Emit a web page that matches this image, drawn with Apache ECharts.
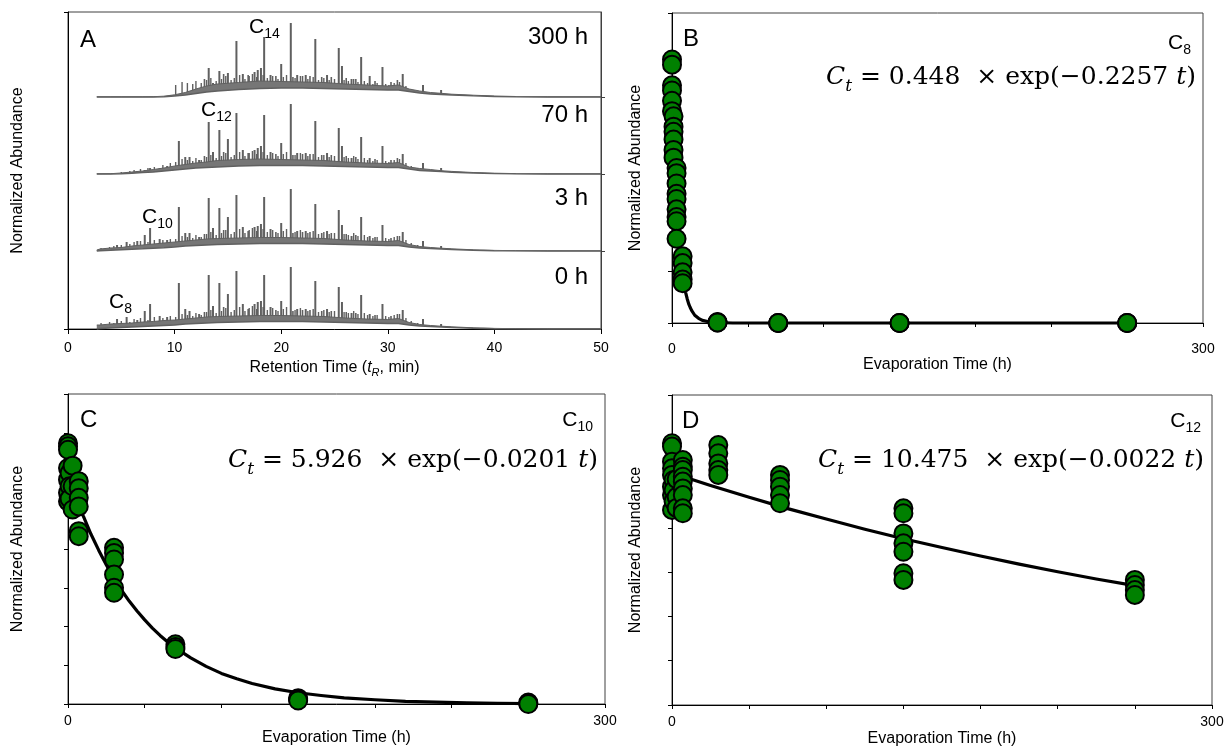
<!DOCTYPE html>
<html>
<head>
<meta charset="utf-8">
<script src="https://cdn.jsdelivr.net/npm/echarts@6/dist/echarts.min.js"></script>
<style>
  html, body { margin: 0; padding: 0; background: #fff; }
  #chart { width: 1225px; height: 746px; }
</style>
</head>
<body>
<div id="chart"></div>
<script>
// ---- panel A: chromatograms (retention time in min, heights in px above each trace baseline)
const traceOffsets = [0, 78, 155, 232]; // 0 h, 3 h, 70 h, 300 h
const humpTimes = [2.7, 3, 4, 5, 6, 7, 8, 9, 10, 11, 12, 13, 14, 16, 18, 20, 22, 24, 26, 28, 30, 31, 32, 33, 34, 35, 36, 38, 40, 42, 45, 50];
const floor0h = [0, 0.5, 1, 1.5, 2, 2.5, 3, 3.5, 4, 5, 5.5, 6, 6.5, 7, 7.5, 7.5, 7.5, 7, 6.5, 6, 5.5, 5.5, 4, 3, 2.5, 2, 1.5, 0.8, 0.3, 0.1, 0, 0];
const top0h = [4, 4, 5, 5.5, 6, 7, 7.5, 8.5, 9, 10, 11, 12, 12.5, 13, 13.5, 13.5, 13, 12.5, 11, 10, 9.5, 10.5, 6.5, 4.5, 3.5, 2.8, 2.2, 1.2, 0.6, 0.3, 0.2, 0.2];
const floor3h = [0, 0.3, 0.7, 1.2, 1.7, 2.2, 2.8, 3.3, 4, 5, 5.5, 6, 6.5, 7, 7.5, 7.5, 7.5, 7, 6.5, 6, 5.5, 5.5, 4, 3, 2.5, 2, 1.5, 0.8, 0.3, 0.1, 0, 0];
const top3h = [1, 2, 3, 3.5, 5, 6, 7, 8, 9, 10, 11, 12, 12.5, 13, 13.5, 13.5, 13, 12.5, 11, 10, 9.5, 10.5, 6.5, 4.5, 3.5, 2.8, 2.2, 1.2, 0.6, 0.3, 0.2, 0.2];
const floor70h = [0, 0, 0, 0.3, 0.8, 1.5, 2, 3, 4, 5, 6, 6.5, 7, 8, 8.5, 8.5, 8.5, 8, 7.5, 7, 6.5, 6.5, 5, 3.5, 3, 2.5, 1.8, 1, 0.4, 0.2, 0, 0];
const top70h = [0.2, 0.2, 0.3, 1, 2, 3, 4.5, 6, 8, 9.5, 11, 12, 13.5, 14.5, 15, 14.5, 14, 13.5, 12, 11, 10.5, 11.5, 7, 5.5, 4.5, 3.3, 2.6, 1.5, 0.8, 0.4, 0.2, 0.2];
const floor300h = [0, 0, 0, 0, 0, 0, 0, 0.3, 1, 2, 3.5, 5, 6, 7.5, 8.5, 9, 9, 8.5, 8, 7.5, 7, 7, 5.5, 4, 3, 2.5, 2, 1.2, 0.5, 0.2, 0, 0];
const top300h = [0.2, 0.2, 0.2, 0.2, 0.2, 0.2, 0.3, 0.8, 2.2, 4.5, 8, 11, 13, 14.5, 16, 15.5, 15, 14.5, 13, 12, 11, 12, 8, 6, 4.5, 3.7, 2.8, 1.8, 1, 0.5, 0.2, 0.2];

const majorPeakTimes = [4.6, 5.5, 6.5, 7.2, 7.7, 8.6, 9.3, 10.4, 11.0, 11.4, 12.3, 13.2, 13.6, 14.2, 15.0, 15.8, 16.4, 17.5, 17.8, 18.1, 18.4, 19.0, 20.0, 20.9, 21.5, 22.3, 23.2, 24.3, 25.4, 25.7, 26.6, 27.5, 28.3, 29.5, 31.4, 33.3, 35.0];
const major0h = [10, 12, 9, 18, 25, 13, 12, 46, 20, 18, 15, 54, 23, 46, 35, 58, 25, 25, 27, 28, 54, 22, 28, 62, 20, 20, 48, 20, 42, 27, 16, 34, 15, 25, 19, 10, 5];
const major3h = [6, 9, 10, 16, 23, 12, 11, 44, 18, 18, 14, 53, 23, 43, 34, 56, 24, 24, 25, 27, 54, 22, 28, 62, 20, 20, 47, 20, 41, 26, 15, 34, 15, 26, 19, 10, 5];
const major70h = [0, 0, 3, 4, 6, 6, 8, 33, 17, 17, 14, 52, 22, 44, 35, 61, 24, 24, 26, 28, 59, 22, 31, 70, 21, 21, 53, 21, 46, 28, 16, 37, 16, 28, 20, 11, 6];
const major300h = [0, 0, 0, 0, 0, 0, 0, 3, 4, 5, 8, 29, 14, 26, 24, 56, 23, 25, 27, 29, 60, 22, 33, 74, 22, 22, 58, 22, 49, 31, 18, 40, 21, 30, 23, 12, 7];
const minorPeakTimes = [12.8, 14.6, 16.9, 19.5, 21.1, 22.0, 22.7, 23.8, 24.7, 26.1, 27.0, 28.8, 30.3, 30.9];
const minor0h = [17, 22, 20, 19, 18, 19, 19, 18, 18, 17, 16, 14, 13, 15];
const minor3h = [17, 21, 20, 19, 18, 19, 19, 18, 18, 17, 16, 14, 13, 15];
const minor70h = [18, 22, 21, 20, 19, 20, 20, 19, 19, 18, 17, 15, 14, 16];
const minor300h = [18, 23, 22, 21, 20, 21, 21, 20, 20, 19, 18, 16, 15, 17];
// small unresolved peaks ("grass"), same in all four runs between 10 and 33 min
const grassTimes = [10.1, 10.7, 11.2, 11.7, 12.0, 12.5, 13.0, 13.4, 13.9, 14.4, 14.8, 15.3, 15.6, 16.1, 16.6, 17.0, 17.3, 17.7, 18.3, 18.7, 19.2, 19.7, 20.2, 20.5, 21.3, 21.8, 22.5, 23.0, 23.5, 24.0, 24.5, 25.0, 25.9, 26.3, 26.8, 27.2, 27.8, 28.1, 28.6, 29.0, 29.8, 30.1, 30.6, 31.1, 31.7, 32.2, 32.8];
const grassHeights = [12, 15, 14, 13, 16, 14, 17, 19, 16, 18, 21, 17, 19, 22, 18, 21, 23, 20, 22, 19, 21, 18, 20, 22, 19, 21, 18, 20, 17, 19, 17, 18, 17, 16, 18, 15, 16, 14, 13, 14, 13, 12, 14, 15, 11, 8, 6];
const earlyTimes = [3.1, 3.5, 3.9, 4.3, 5.0, 5.8, 6.2, 6.8, 7.5, 8.1, 8.9, 9.6];
const early0h = [6, 5, 7, 6, 8, 7, 10, 11, 9, 12, 11, 13];
const early3h = [3, 3, 4, 5, 6, 7, 9, 10, 9, 11, 11, 12];
const early70h = [0, 0, 0, 0, 2, 3, 4, 5, 6, 7, 9, 11];
const early300h = [0, 0, 0, 0, 0, 0, 0, 0, 0, 0, 1, 2];

// ---- panels B-D: evaporation data (h, normalized abundance)
const sampleTimes = [0, 1, 3, 7, 30, 70, 150, 300];
const c8Values = [
  [0.51, 0.50, 0.46, 0.45, 0.43, 0.41],
  [0.40, 0.38, 0.37, 0.355, 0.335, 0.32],
  [0.30, 0.29, 0.27, 0.25, 0.24, 0.22, 0.205, 0.197, 0.163],
  [0.129, 0.116, 0.098, 0.084, 0.077],
  [0.002, 0.001, 0.001],
  [0, 0, 0],
  [0, 0, 0],
  [0, 0, 0]
];
const c10Values = [
  [6.73, 6.65, 6.56, 6.09, 5.79, 5.45, 5.23],
  [5.96, 5.62, 5.3],
  [6.15, 5.62, 5.02],
  [5.75, 5.57, 5.32, 5.10, 4.46, 4.33],
  [4.03, 3.9, 3.73, 3.34, 3.0, 2.87],
  [1.54, 1.47, 1.42],
  [0.15, 0.12, 0.09],
  [0.04, 0.02, 0.0]
];
const c12Values = [
  [11.82, 11.67, 10.99, 10.69, 10.39, 9.86, 9.48, 8.81],
  [10.16, 9.7, 9.2],
  [10.2, 9.4, 8.9],
  [11.06, 10.76, 10.61, 10.31, 10.09, 9.78, 9.48, 8.88, 8.66],
  [11.74, 11.37, 10.91, 10.61, 10.39],
  [10.39, 10.16, 9.86, 9.48, 9.11],
  [8.88, 8.66, 7.75, 7.30, 6.92, 5.95, 5.65],
  [5.65, 5.42, 5.19, 4.97]
];
// fitted curves as drawn in the figure
const c8FitT = [0, 1, 2, 3, 4, 5, 6, 7, 8, 9, 10, 11, 12, 13, 15, 17.5, 20, 25, 30, 40, 60, 100, 200, 300];
const c8FitV = [0.448, 0.358, 0.286, 0.228, 0.182, 0.145, 0.116, 0.092, 0.074, 0.059, 0.047, 0.037, 0.030, 0.024, 0.015, 0.009, 0.005, 0.002, 0.001, 0, 0, 0, 0, 0];
const c10FitT = [0, 5, 10, 15, 20, 25, 30, 35, 40, 45, 50, 55, 60, 65, 70, 80, 90, 100, 110, 120, 135, 150, 165, 180, 200, 220, 240, 260, 280, 300];
const c10FitV = [5.93, 5.36, 4.85, 4.38, 3.97, 3.59, 3.24, 2.93, 2.65, 2.40, 2.17, 1.96, 1.77, 1.60, 1.45, 1.19, 0.97, 0.79, 0.65, 0.53, 0.39, 0.29, 0.22, 0.16, 0.11, 0.07, 0.05, 0.03, 0.02, 0.01];
const c12FitT = [0, 25, 50, 75, 100, 125, 150, 175, 200, 225, 250, 275, 300];
const c12FitV = [10.48, 9.91, 9.38, 8.87, 8.40, 7.94, 7.51, 7.11, 6.73, 6.36, 6.02, 5.69, 5.39];

const SANS = 'Liberation Sans, Arial, sans-serif';
const SERIF = 'DejaVu Serif, serif';
const TRACE = '#606060';

const floors = [floor0h, floor3h, floor70h, floor300h];
const tops = [top0h, top3h, top70h, top300h];
const majors = [major0h, major3h, major70h, major300h];
const minors = [minor0h, minor3h, minor70h, minor300h];
const earlies = [early0h, early3h, early70h, early300h];

function spikeRender(params, api) {
  const a = api.coord([api.value(0), api.value(1)]);
  const b = api.coord([api.value(0), api.value(2)]);
  return { type: 'line', shape: { x1: a[0], y1: a[1], x2: b[0], y2: b[1] }, style: { stroke: TRACE, lineWidth: api.value(3) } };
}

const series = [];
traceOffsets.forEach(function (off, k) {
  const spikes = [];
  majorPeakTimes.forEach(function (t, i) { if (majors[k][i] > 0) spikes.push([t, off, off + majors[k][i], 2]); });
  minorPeakTimes.forEach(function (t, i) { spikes.push([t, off, off + minors[k][i], 1.6]); });
  grassTimes.forEach(function (t, i) { spikes.push([t, off, off + grassHeights[i], 1.4]); });
  earlyTimes.forEach(function (t, i) { if (earlies[k][i] > 0) spikes.push([t, off, off + earlies[k][i], 1.4]); });
  series.push({
    type: 'custom', xAxisIndex: 0, yAxisIndex: 0, renderItem: spikeRender,
    encode: { x: 0, y: [1, 2] }, data: spikes, z: 2, silent: true
  });
  series.push({
    type: 'line', xAxisIndex: 0, yAxisIndex: 0, symbol: 'none', z: 3, clip: false, silent: true,
    data: humpTimes.map(function (t, i) { return [t, off + tops[k][i]]; }),
    lineStyle: { color: TRACE, width: 1 },
    areaStyle: { color: '#767676', opacity: 1, origin: off }
  });
  series.push({
    type: 'line', xAxisIndex: 0, yAxisIndex: 0, symbol: 'none', z: 4, clip: false, silent: true,
    data: humpTimes.map(function (t, i) { return [t, off + floors[k][i]]; }),
    lineStyle: { color: TRACE, width: 1.4 },
    areaStyle: { color: '#ffffff', opacity: 1, origin: off }
  });
});

function points(values) {
  const out = [];
  sampleTimes.forEach(function (t, i) { values[i].forEach(function (v) { out.push([t, v]); }); });
  return out;
}
function pairs(ts, vs) { return ts.map(function (t, i) { return [t, vs[i]]; }); }

[[c8FitT, c8FitV, c8Values], [c10FitT, c10FitV, c10Values], [c12FitT, c12FitV, c12Values]].forEach(function (p, j) {
  series.push({
    type: 'line', xAxisIndex: j + 1, yAxisIndex: j + 2, symbol: 'none', smooth: false,
    clip: false, z: 3, data: pairs(p[0], p[1]), lineStyle: { color: '#000', width: 3.2, join: 'round' }
  });
  series.push({
    type: 'scatter', xAxisIndex: j + 1, yAxisIndex: j + 2, symbol: 'circle', symbolSize: 18, clip: false, z: 4,
    data: points(p[2]), itemStyle: { color: '#008000', borderColor: '#000', borderWidth: 2, opacity: 1 }
  });
});

const gridBase = { show: true, borderColor: '#404040', borderWidth: 1, backgroundColor: 'transparent', containLabel: false, outerBoundsMode: 'none' };
const axisLine = { show: true, lineStyle: { color: '#000', width: 1 } };

function evapX(gridIndex, margin, gap) {
  return {
    type: 'value', gridIndex: gridIndex, min: 0, max: 350, interval: 50,
    axisLine: axisLine, splitLine: { show: false },
    axisTick: { show: true, inside: false, length: 4, lineStyle: { color: '#000' } },
    axisLabel: {
      show: true, margin: margin, fontSize: 14, fontFamily: SANS, color: '#000', showMinLabel: true, showMaxLabel: true,
      formatter: function (v) { return v === 0 ? '0' : (v === 350 ? '300' : ''); }
    },
    name: 'Evaporation Time (h)', nameLocation: 'middle', nameGap: gap,
    nameTextStyle: { fontSize: 16, fontFamily: SANS, color: '#000' }
  };
}
function abundY(gridIndex, max, interval, gap) {
  return {
    type: 'value', gridIndex: gridIndex, min: 0, max: max, interval: interval,
    axisLine: axisLine, splitLine: { show: false },
    axisTick: { show: true, inside: false, length: 4, lineStyle: { color: '#000' } },
    axisLabel: { show: false },
    name: 'Normalized Abundance', nameLocation: 'middle', nameGap: gap,
    nameTextStyle: { fontSize: 16, fontFamily: SANS, color: '#000' }
  };
}

const chemRich = {
  c: { fontSize: 21, fontFamily: SANS, color: '#000', lineHeight: 28, verticalAlign: 'middle' },
  s: { fontSize: 14, fontFamily: SANS, color: '#000', lineHeight: 14, verticalAlign: 'bottom' }
};
const eqRich = {
  n: { fontSize: 25, fontFamily: SERIF, color: '#000', lineHeight: 36, verticalAlign: 'middle' },
  i: { fontSize: 25, fontFamily: SERIF, fontStyle: 'italic', color: '#000', lineHeight: 36, verticalAlign: 'middle' },
  s: { fontSize: 17, fontFamily: SERIF, fontStyle: 'italic', color: '#000', lineHeight: 18, verticalAlign: 'bottom' },
  r: { fontSize: 25, fontFamily: SERIF, color: '#ff0000', lineHeight: 36, verticalAlign: 'middle' }
};

function txt(x, y, text, size, align) {
  return { type: 'text', x: x, y: y, z: 10, style: {
    text: text, fontSize: size, fontFamily: SANS, fill: '#000',
    align: align, verticalAlign: 'middle', textAlign: align, textVerticalAlign: 'middle' } };
}
function rich(x, y, text, richStyle, align) {
  return { type: 'text', x: x, y: y, z: 10, style: {
    text: text, rich: richStyle, fill: '#000',
    align: align, verticalAlign: 'middle', textAlign: align, textVerticalAlign: 'middle' } };
}

const option = {
  animation: false,
  backgroundColor: '#fff',
  grid: [
    Object.assign({ left: 68, top: 12, width: 533, height: 317 }, gridBase),
    Object.assign({ left: 672, top: 13, width: 531, height: 310 }, gridBase),
    Object.assign({ left: 68, top: 394, width: 537, height: 310 }, gridBase),
    Object.assign({ left: 672, top: 395, width: 540, height: 310 }, gridBase)
  ],
  xAxis: [
    {
      type: 'value', gridIndex: 0, min: 0, max: 50, interval: 10,
      axisLine: axisLine, splitLine: { show: false },
      axisTick: { show: true, inside: false, length: 5, lineStyle: { color: '#000' } },
      axisLabel: { margin: 12, fontSize: 14, fontFamily: SANS, color: '#000' },
      name: '{a|Retention Time (}{i|t}{s|R}{a|, min)}', nameLocation: 'middle', nameGap: 29,
      nameTextStyle: { rich: {
        a: { fontSize: 16, fontFamily: SANS, color: '#000', lineHeight: 20, verticalAlign: 'middle' },
        i: { fontSize: 16, fontFamily: SANS, fontStyle: 'italic', color: '#000', lineHeight: 20, verticalAlign: 'middle' },
        s: { fontSize: 11, fontFamily: SANS, fontStyle: 'italic', color: '#000', lineHeight: 12, verticalAlign: 'bottom' }
      } }
    },
    evapX(1, 19, 33),
    evapX(2, 10, 26),
    evapX(3, 10, 26)
  ],
  yAxis: [
    {
      type: 'value', gridIndex: 0, min: 0, max: 317,
      axisLine: axisLine, splitLine: { show: false },
      axisTick: { show: true, inside: false, length: 4, customValues: [0, 317], lineStyle: { color: '#000' } },
      axisLabel: { show: false },
      name: 'Normalized Abundance', nameLocation: 'middle', nameGap: 42,
      nameTextStyle: { fontSize: 16, fontFamily: SANS, color: '#000' }
    },
    {
      type: 'value', gridIndex: 0, position: 'right', min: 0, max: 317,
      axisLine: { show: true, lineStyle: { color: '#404040' } }, splitLine: { show: false },
      axisTick: { show: true, inside: false, length: 4, customValues: traceOffsets.slice(1), lineStyle: { color: '#404040' } },
      axisLabel: { show: false }
    },
    abundY(1, 0.6, 0.1, 28),
    abundY(2, 8, 1, 42),
    abundY(3, 14, 2, 28)
  ],
  graphic: [
    txt(80, 40, 'A', 24, 'left'),
    txt(683, 39, 'B', 24, 'left'),
    txt(80, 420, 'C', 24, 'left'),
    txt(682, 421, 'D', 24, 'left'),
    txt(588, 37, '300 h', 24, 'right'),
    txt(588, 115, '70 h', 24, 'right'),
    txt(588, 198, '3 h', 24, 'right'),
    txt(588, 277, '0 h', 24, 'right'),
    rich(249, 27, '{c|C}{s|14}', chemRich, 'left'),
    rich(201, 110, '{c|C}{s|12}', chemRich, 'left'),
    rich(142, 217, '{c|C}{s|10}', chemRich, 'left'),
    rich(109, 302, '{c|C}{s|8}', chemRich, 'left'),
    rich(1191, 43, '{c|C}{s|8}', chemRich, 'right'),
    rich(593, 420, '{c|C}{s|10}', chemRich, 'right'),
    rich(1201, 421, '{c|C}{s|12}', chemRich, 'right'),
    rich(1196, 77, '{i|C}{s|t}{n| = 0.448  × exp(−}{r|0.2257}{n| }{i|t}{n|)}', eqRich, 'right'),
    rich(598, 460, '{i|C}{s|t}{n| = 5.926  × exp(−}{r|0.0201}{n| }{i|t}{n|)}', eqRich, 'right'),
    rich(1204, 460, '{i|C}{s|t}{n| = 10.475  × exp(−}{r|0.0022}{n| }{i|t}{n|)}', eqRich, 'right')
  ],
  series: series
};

const chart = echarts.init(document.getElementById('chart'));
chart.setOption(option);
</script>
</body>
</html>
